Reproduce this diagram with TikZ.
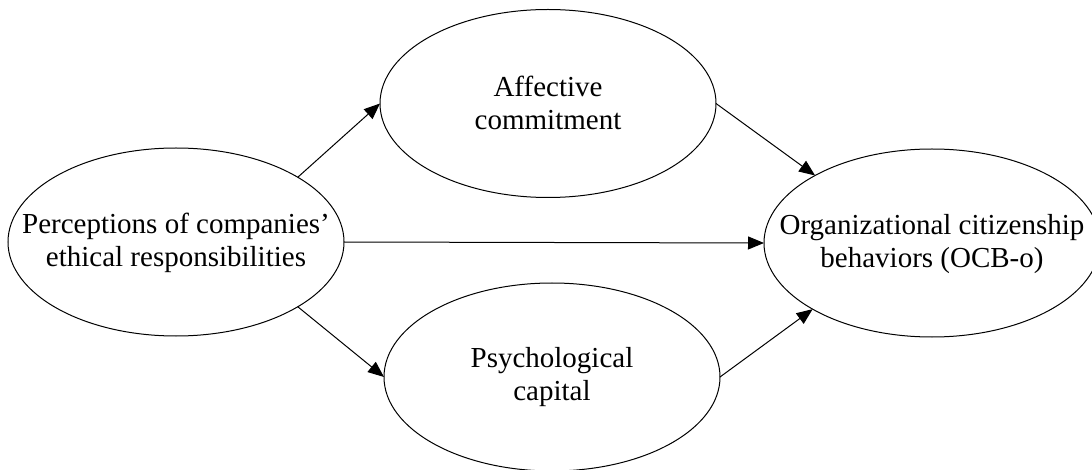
\documentclass[tikz,border=0pt]{standalone}
\usepackage{fontspec}
\setmainfont{Liberation Serif}
\usetikzlibrary{shapes.geometric,arrows.meta}
\begin{document}
\begin{tikzpicture}[x=1pt,y=-1pt,
  oval/.style={draw=black, line width=1pt, ellipse, inner sep=0pt, outer sep=0pt,
    minimum width=336pt, minimum height=188pt},
  txt/.style={align=center, inner sep=0pt, font=\fontsize{29}{33}\selectfont},
  conn/.style={draw=black, line width=1pt, -{Triangle[length=16pt,width=13pt]}}]
\useasboundingbox (0,0) rectangle (1092,470);
\node[oval] (a) at (176,242) {};
\node[oval] (b) at (548,103.5) {};
\node[oval] (c) at (552,377) {};
\node[oval] (d) at (932,243) {};
\node[txt] (ta) at (176,243) {Perceptions of companies’\\ethical responsibilities};
\node[txt] (tb) at (548,103) {Affective\\commitment};
\node[txt] (tc) at (552,377) {Psychological\\capital};
\node[txt] (td) at (932,244) {Organizational citizenship\\behaviors (OCB-o)};
\draw[conn] (a.28.6) -- (b.west);
\draw[conn] (a.-28.6) -- (c.west);
\draw[conn] (a.east) -- (d.west);
\draw[conn] (b.east) -- (d.150.3);
\draw[conn] (c.east) -- (d.209.4);
\end{tikzpicture}
\end{document}
